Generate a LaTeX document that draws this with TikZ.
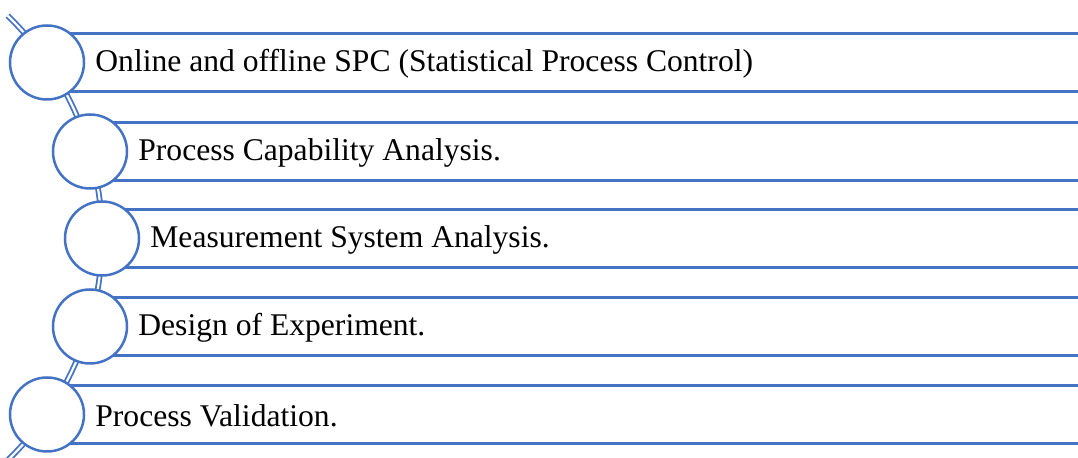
\documentclass[tikz,border=0pt]{standalone}
\usepackage{fontspec}
\setmainfont{Liberation Serif}
\definecolor{accent}{HTML}{4472C4}
\tikzset{
  ring/.style={draw=accent, line width=1.25pt, fill=white, circle, minimum size=37pt, inner sep=0pt},
  rule/.style={draw=accent, line width=1.4pt},
  label/.style={anchor=west, inner sep=0pt, font=\fontsize{15.8}{18}\selectfont},
  spine/.style={draw=accent, double=white, line width=0.9pt, double distance=1.1pt}
}
\begin{document}
\begin{tikzpicture}[x=0.5pt,y=-0.5pt]
  \useasboundingbox (0,0) rectangle (1078,458);
  \begin{scope}
    \clip (0,0) rectangle (1078,458);

    % curved spine behind the rings
    \draw[spine] (-207,238) ++(-46:309) arc[start angle=-46, end angle=52, radius=309];

    % rows: centre x / centre y / text
    \foreach \i/\cx/\cy/\txt in {
      1/47/62.5/{Online and offline SPC (Statistical Process Control)},
      2/90/151.5/{Process Capability Analysis.},
      3/102/238.5/{Measurement System Analysis.},
      4/90/326.5/{Design of Experiment.},
      5/47/414.5/{Process Validation.}} {
      \coordinate (top\i) at (\cx,\cy-29);
      \coordinate (bot\i) at (\cx,\cy+29);
      \coordinate (topend\i) at (1078,\cy-29);
      \coordinate (botend\i) at (1078,\cy+29);
      \draw[rule] (top\i) -- (topend\i);
      \draw[rule] (bot\i) -- (botend\i);
      \node[ring] (ring\i) at (\cx,\cy) {};
      \node[label] (text\i) at (\cx+48,\cy+1) {\txt};
    }
  \end{scope}
\end{tikzpicture}
\end{document}
